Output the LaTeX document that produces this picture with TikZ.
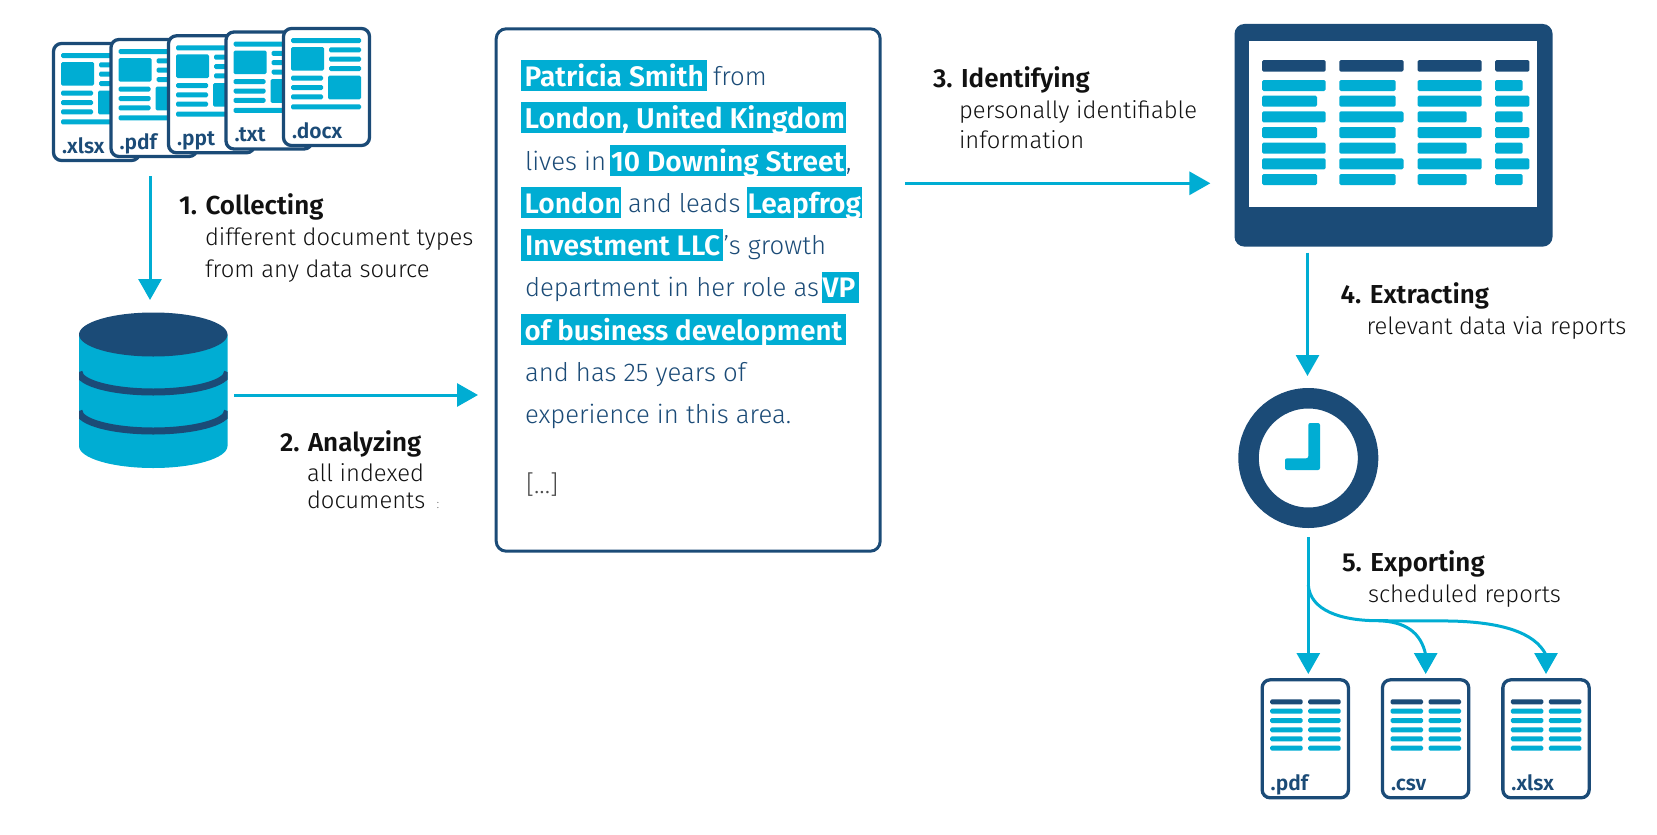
\documentclass[tikz,border=0pt]{standalone}
\usepackage{fontspec}
\setmainfont{Fira Sans Light}[BoldFont={Fira Sans SemiBold}]
\usetikzlibrary{arrows.meta}
\definecolor{cy}{HTML}{00ADD3}
\definecolor{nv}{HTML}{1B4B77}
\definecolor{bk}{HTML}{111111}
\tikzset{
 flow/.style={draw=cy,line width=3pt,-{Triangle[width=23pt,length=21pt]}},
 txt/.style={anchor=base west,inner sep=0pt,outer sep=0pt},
 boxtxt/.style={txt,text=nv,font=\fontsize{25.7}{28}\selectfont},
 hltxt/.style={txt,text=white,font=\fontsize{28.2}{28}\selectfont\bfseries},
 headtxt/.style={txt,text=bk,font=\fontsize{26}{26}\selectfont\bfseries},
 subtxt/.style={txt,text=bk,font=\fontsize{23.8}{25}\selectfont},
 doclbl/.style={txt,text=nv,font=\fontsize{21}{22}\selectfont\bfseries},
 paper/.style={draw=nv,fill=white,line width=3.3pt,rounded corners=8pt,inner sep=0pt},
}
\newcommand{\bbar}[5]{\fill[#1,rounded corners=1.5pt] (#2,#3) rectangle (#4,#5);}
\newcommand{\srcdoc}[4]{%
 \begin{scope}[shift={(#2,#3)}]
 \node[paper,minimum width=86pt,minimum height=117pt] (#1) at (44.5,60) {};
 \bbar{cy}{9}{11}{79}{16}
 \bbar{cy}{9}{20}{42}{43.7}
 \bbar{cy}{47}{20.3}{79}{25.3}
 \bbar{cy}{47}{29.7}{79}{34.7}
 \bbar{cy}{47}{39}{79}{44}
 \bbar{cy}{9}{48.7}{41}{53.7}
 \bbar{cy}{9}{58}{41}{63}
 \bbar{cy}{9}{67.3}{41}{72.3}
 \bbar{cy}{46}{48.7}{79}{72.3}
 \bbar{cy}{9}{77.3}{79}{82.3}
 \node[doclbl] (#1l) at (10,111) {#4};
 \end{scope}}
\newcommand{\outdoc}[4]{%
 \begin{scope}[shift={(#2,#3)}]
 \node[paper,minimum width=86.3pt,minimum height=118pt] (#1) at (44.6,60.5) {};
 \bbar{nv}{9.5}{21}{42}{26}
 \bbar{nv}{47.5}{21}{80}{26}
 \foreach \yy in {30.4,39.7,49,58,67.4}{
  \bbar{cy}{9.5}{\yy}{42}{\yy+5}
  \bbar{cy}{47.5}{\yy}{80}{\yy+5}}
 \node[doclbl] (#1l) at (10,111.7) {#4};
 \end{scope}}
\newcommand{\hl}[6]{%
 \fill[cy] (#2,#3) rectangle (#4,#5);
 \node[hltxt] (#1) at (#2+4,#3+26) {#6};}
\newcommand{\hlb}[6]{%
 \fill[cy] (#2,#3) rectangle (#4,#5);
 \node[hltxt] (#1) at (#2+1,#3+26) {#6};}
\begin{document}
\begin{tikzpicture}[x=1pt,y=-1pt]
\useasboundingbox (0,0) rectangle (1657,835);
% source documents
\srcdoc{da}{52}{42}{.xlsx}
\srcdoc{db}{109.5}{38}{.pdf}
\srcdoc{dc}{167}{34.3}{.ppt}
\srcdoc{dd}{224.5}{30.5}{.txt}
\srcdoc{de}{282}{27}{.docx}
% database
\fill[cy] (79,334.5) -- (79,446) arc[start angle=180,end angle=0,x radius=74.25,y radius=22] -- (227.5,334.5) -- cycle;
\begin{scope}
\clip (79,300) rectangle (227.5,470);
\draw[nv,line width=7pt] (79,372) arc[start angle=180,end angle=0,x radius=74.25,y radius=20];
\draw[nv,line width=7pt] (79,411) arc[start angle=180,end angle=0,x radius=74.25,y radius=20];
\end{scope}
\fill[nv] (153.25,334.5) ellipse[x radius=74.25,y radius=22];
\coordinate (dbtop) at (150,300);
\coordinate (stackout) at (150,176);
\coordinate (dbout) at (234,395);
\coordinate (panelin) at (478,395);
\draw[flow] (stackout) -- (dbtop);
\draw[flow] (dbout) -- (panelin);
% labels
\node[headtxt] (l1) at (179,214) {1. Collecting};
\node[subtxt] (l1a) at (205,245.5) {different document types};
\node[subtxt] (l1b) at (205,277) {from any data source};
\node[headtxt] (l2) at (280,451) {2. Analyzing};
\node[subtxt] (l2a) at (307,481.5) {all indexed};
\node[subtxt] (l2b) at (307,508.5) {documents};
\node[txt,text=bk!60,font=\fontsize{13}{13}\selectfont] (l2c) at (436.5,508) {:};
% panel
\node[draw=nv,fill=white,line width=3pt,rounded corners=10pt,minimum width=384pt,minimum height=522.4pt,inner sep=0pt] (panel) at (688.2,290) {};
\hl{t1}{520.7}{60}{706.7}{91}{Patricia Smith}
\node[boxtxt] (t1b) at (713,85) {from};
\hl{t2}{520.7}{102.3}{845.5}{133.3}{{\fontsize{28.6}{28}\selectfont London, United Kingdom}}
\node[boxtxt] (t3a) at (525,170) {lives in};
\hlb{t3}{610}{145}{845.5}{175.5}{10 Downing Street}
\node[boxtxt] (t3b) at (846,170) {,};
\hl{t4}{520.7}{187.3}{621}{218}{London}
\node[boxtxt] (t4b) at (628,212) {and leads};
\hlb{t4c}{746.7}{187.3}{861.7}{218}{Leapfrog}
\hl{t5}{521}{229}{723}{260.5}{Investment LLC}
\node[boxtxt] (t5b) at (723.5,254) {’s growth};
\node[boxtxt] (t6) at (525,296.4) {department in her role as};
\hlb{t6b}{821.7}{271.7}{859}{302.7}{VP}
\hl{t7}{520.7}{314}{845.5}{345}{{\fontsize{27.7}{28}\selectfont of business development}}
\node[boxtxt] (t8) at (525,381) {and has 25 years of};
\node[boxtxt] (t9) at (525,423.3) {experience in this area.};
\node[txt,text=bk!75,font=\fontsize{25.7}{28}\selectfont] (t10) at (526,493) {[...]};
% monitor
\node[fill=nv,rounded corners=10pt,minimum width=318.1pt,minimum height=222.7pt,inner sep=0pt] (mon) at (1393.55,135.3) {};
\node[fill=white,minimum width=288.2pt,minimum height=165.7pt,inner sep=0pt] (screen) at (1393.1,123.85) {};
\foreach \xa/\xb in {1262/1325.7,1339.3/1403.5,1417.5/1481.7,1495.2/1529.4}{\bbar{nv}{\xa}{60}{\xb}{71.7}}
\foreach \yy/\aa/\bb/\cc/\dd in {80/1325.7/1395.7/1481.7/1522.7,95.67/1317/1395.7/1481.7/1529.4,111.33/1325.7/1403.5/1466.7/1522.7,127/1317/1395.7/1481.7/1529.4,142.67/1325.7/1395.7/1466.7/1522.7,158.33/1325.7/1403.5/1481.7/1529.4,174/1317/1395.7/1466.7/1522.7}{
 \bbar{cy}{1262}{\yy}{\aa}{\yy+11}
 \bbar{cy}{1339.3}{\yy}{\bb}{\yy+11}
 \bbar{cy}{1417.5}{\yy}{\cc}{\yy+11}
 \bbar{cy}{1495.2}{\yy}{\dd}{\yy+11}}
\coordinate (panelout) at (905,183.3);
\coordinate (monin) at (1210.4,183.3);
\draw[flow] (panelout) -- (monin);
\node[headtxt] (l3) at (933,87) {3. Identifying};
\node[subtxt] (l3a) at (959,118) {personally identifiable};
\node[subtxt] (l3b) at (959,148.5) {information};
% clock
\node[circle,draw=nv,fill=white,line width=20.5pt,minimum size=119.5pt,inner sep=0pt] (clock) at (1308.3,458) {};
\fill[cy,rounded corners=2pt] (1308.3,423) -- (1320,423) -- (1320,470) -- (1285,470) -- (1285,458.3) -- (1308.3,458.3) -- cycle;
\coordinate (monout) at (1307.5,252.7);
\coordinate (clockin) at (1307.5,376);
\draw[flow] (monout) -- (clockin);
\node[headtxt] (l4) at (1340.7,303.3) {4. Extracting};
\node[subtxt] (l4a) at (1366.5,334) {relevant data via reports};
% outputs
\outdoc{oa}{1260.7}{678.3}{.pdf}
\outdoc{ob}{1381}{678.3}{.csv}
\outdoc{oc}{1501.4}{678.3}{.xlsx}
\coordinate (clockout) at (1308.3,537.3);
\coordinate (ina) at (1308.3,674);
\coordinate (inb) at (1425.7,674);
\coordinate (inc) at (1546,674);
\draw[flow] (clockout) -- (ina);
\draw[flow] (1308.3,585) .. controls (1310,610) and (1340,620.7) .. (1378,620.7) .. controls (1405,621.5) and (1421,632) .. (1425.7,655) -- (inb);
\draw[flow] (1378,620.7) -- (1450,621) .. controls (1500,622) and (1535,632) .. (1546,655) -- (inc);
\node[headtxt] (l5) at (1342,571) {5. Exporting};
\node[subtxt] (l5a) at (1368,602) {scheduled reports};
\end{tikzpicture}
\end{document}
